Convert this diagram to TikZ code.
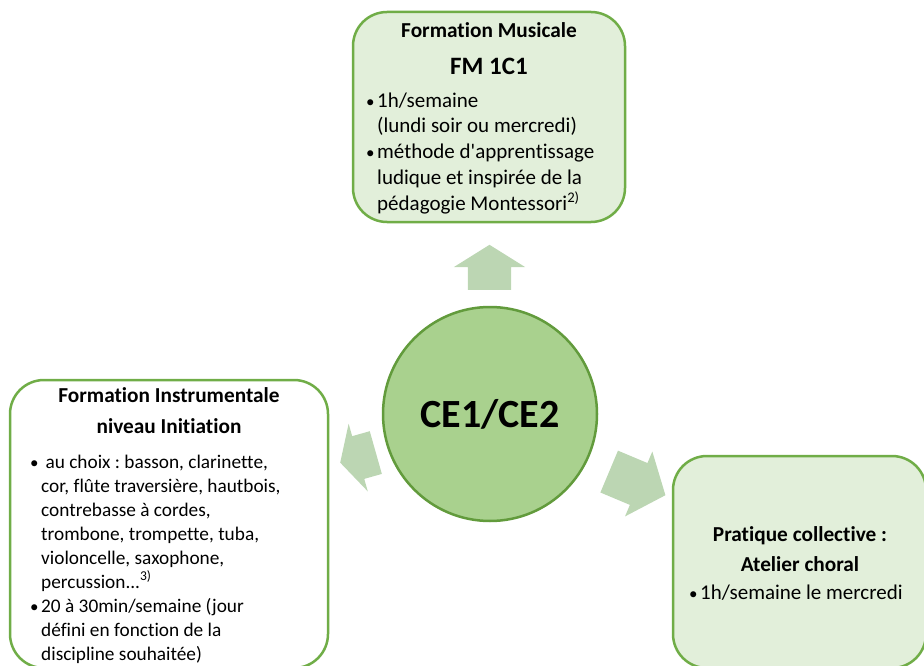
\documentclass[tikz,border=0pt]{standalone}
\usepackage{fontspec}
\setmainfont{Carlito}[Ligatures=CommonOff]
\usetikzlibrary{shapes.arrows,positioning}
\definecolor{leaf}{RGB}{112,173,71}
\definecolor{leafdark}{RGB}{98,155,60}
\definecolor{mint}{RGB}{226,239,218}
\definecolor{disc}{RGB}{169,209,142}
\definecolor{pale}{RGB}{188,214,179}
\newcommand{\bul}{\makebox[11pt][l]{\fontsize{17}{17}\selectfont•}}
\newcommand{\ind}{\hspace*{11pt}}
\frenchspacing

\begin{document}
\begin{tikzpicture}
  [
    x=1pt, y=-1pt,
    box/.style={draw=leaf, line width=2.5pt, rounded corners=34pt, inner sep=0pt},
    head/.style={font=\fontsize{21.3}{25}\selectfont\bfseries, inner sep=0pt, anchor=base},
    list/.style={font=\fontsize{21}{25.7}\selectfont, align=left, inner sep=0pt, anchor=base west},
    blockarrow/.style={single arrow, fill=pale, inner xsep=0pt, anchor=tail},
  ]
  \clip (0,0) rectangle (924,666);

  % central circle
  \node [circle, draw=leafdark, line width=2.5pt, fill=disc, minimum size=214pt,
         font=\fontsize{40}{44}\selectfont\bfseries] (ce) at (490,414) {CE1/CE2};

  % boxes
  \node [box, fill=mint, minimum width=272pt, minimum height=210pt] (fm) at (489,117) {};
  \node [box, fill=white, minimum width=318pt, minimum height=288pt] (fi) at (169,524) {};
  \node [box, fill=mint, minimum width=253pt, minimum height=212pt] (pc) at (799.5,562) {};

  % arrows
  \node [blockarrow, rotate=90, inner ysep=21.5pt, single arrow head extend=14pt,
         single arrow tip angle=116, minimum height=45pt] (upa) at (489.5,290) {};
  \node [blockarrow, rotate=195.8, inner ysep=22pt, single arrow head extend=13pt,
         single arrow tip angle=124, minimum height=37pt] (lefta) at (376,452.5) {};
  \node [blockarrow, rotate=-22.8, inner ysep=22.5pt, single arrow head extend=12.5pt,
         single arrow tip angle=101, minimum height=61pt] (righta) at (609,471.5) {};

  % Formation Musicale
  \node [head] (fmhead) at (489,38) {Formation Musicale};
  \node [head, font=\fontsize{25}{29}\selectfont\bfseries] (fmsub) at (489,75) {FM 1C1};
  \node [list] (fmlist) at (366,210) {\bul 1h/semaine\\
    \ind (lundi soir ou mercredi)\\
    \bul méthode d\textquotesingle apprentissage\\
    \ind ludique et inspirée de la\\
    \ind pédagogie Montessori\textsuperscript{2)}};

  % Formation Instrumentale
  \node [head] (fihead) at (169,402) {Formation Instrumentale};
  \node [head] (finiv) at (169,433) {niveau Initiation};
  \node [list, font=\fontsize{19.3}{24}\selectfont] (filist) at (30,660) {\bul{} au choix : basson, clarinette,\\
    \ind cor, flûte traversière, hautbois,\\
    \ind contrebasse à cordes,\\
    \ind trombone, trompette, tuba,\\
    \ind violoncelle, saxophone,\\
    \ind percussion...\textsuperscript{3)}\\
    \bul 20 à 30min/semaine (jour\\
    \ind défini en fonction de la\\
    \ind discipline souhaitée)};

  % Pratique collective
  \node [head] (pchead) at (800,541) {Pratique collective :};
  \node [head] (pcsub) at (800,571) {Atelier choral};
  \node [list] (pclist) at (689,599) {\bul 1h/semaine le mercredi};
\end{tikzpicture}
\end{document}
